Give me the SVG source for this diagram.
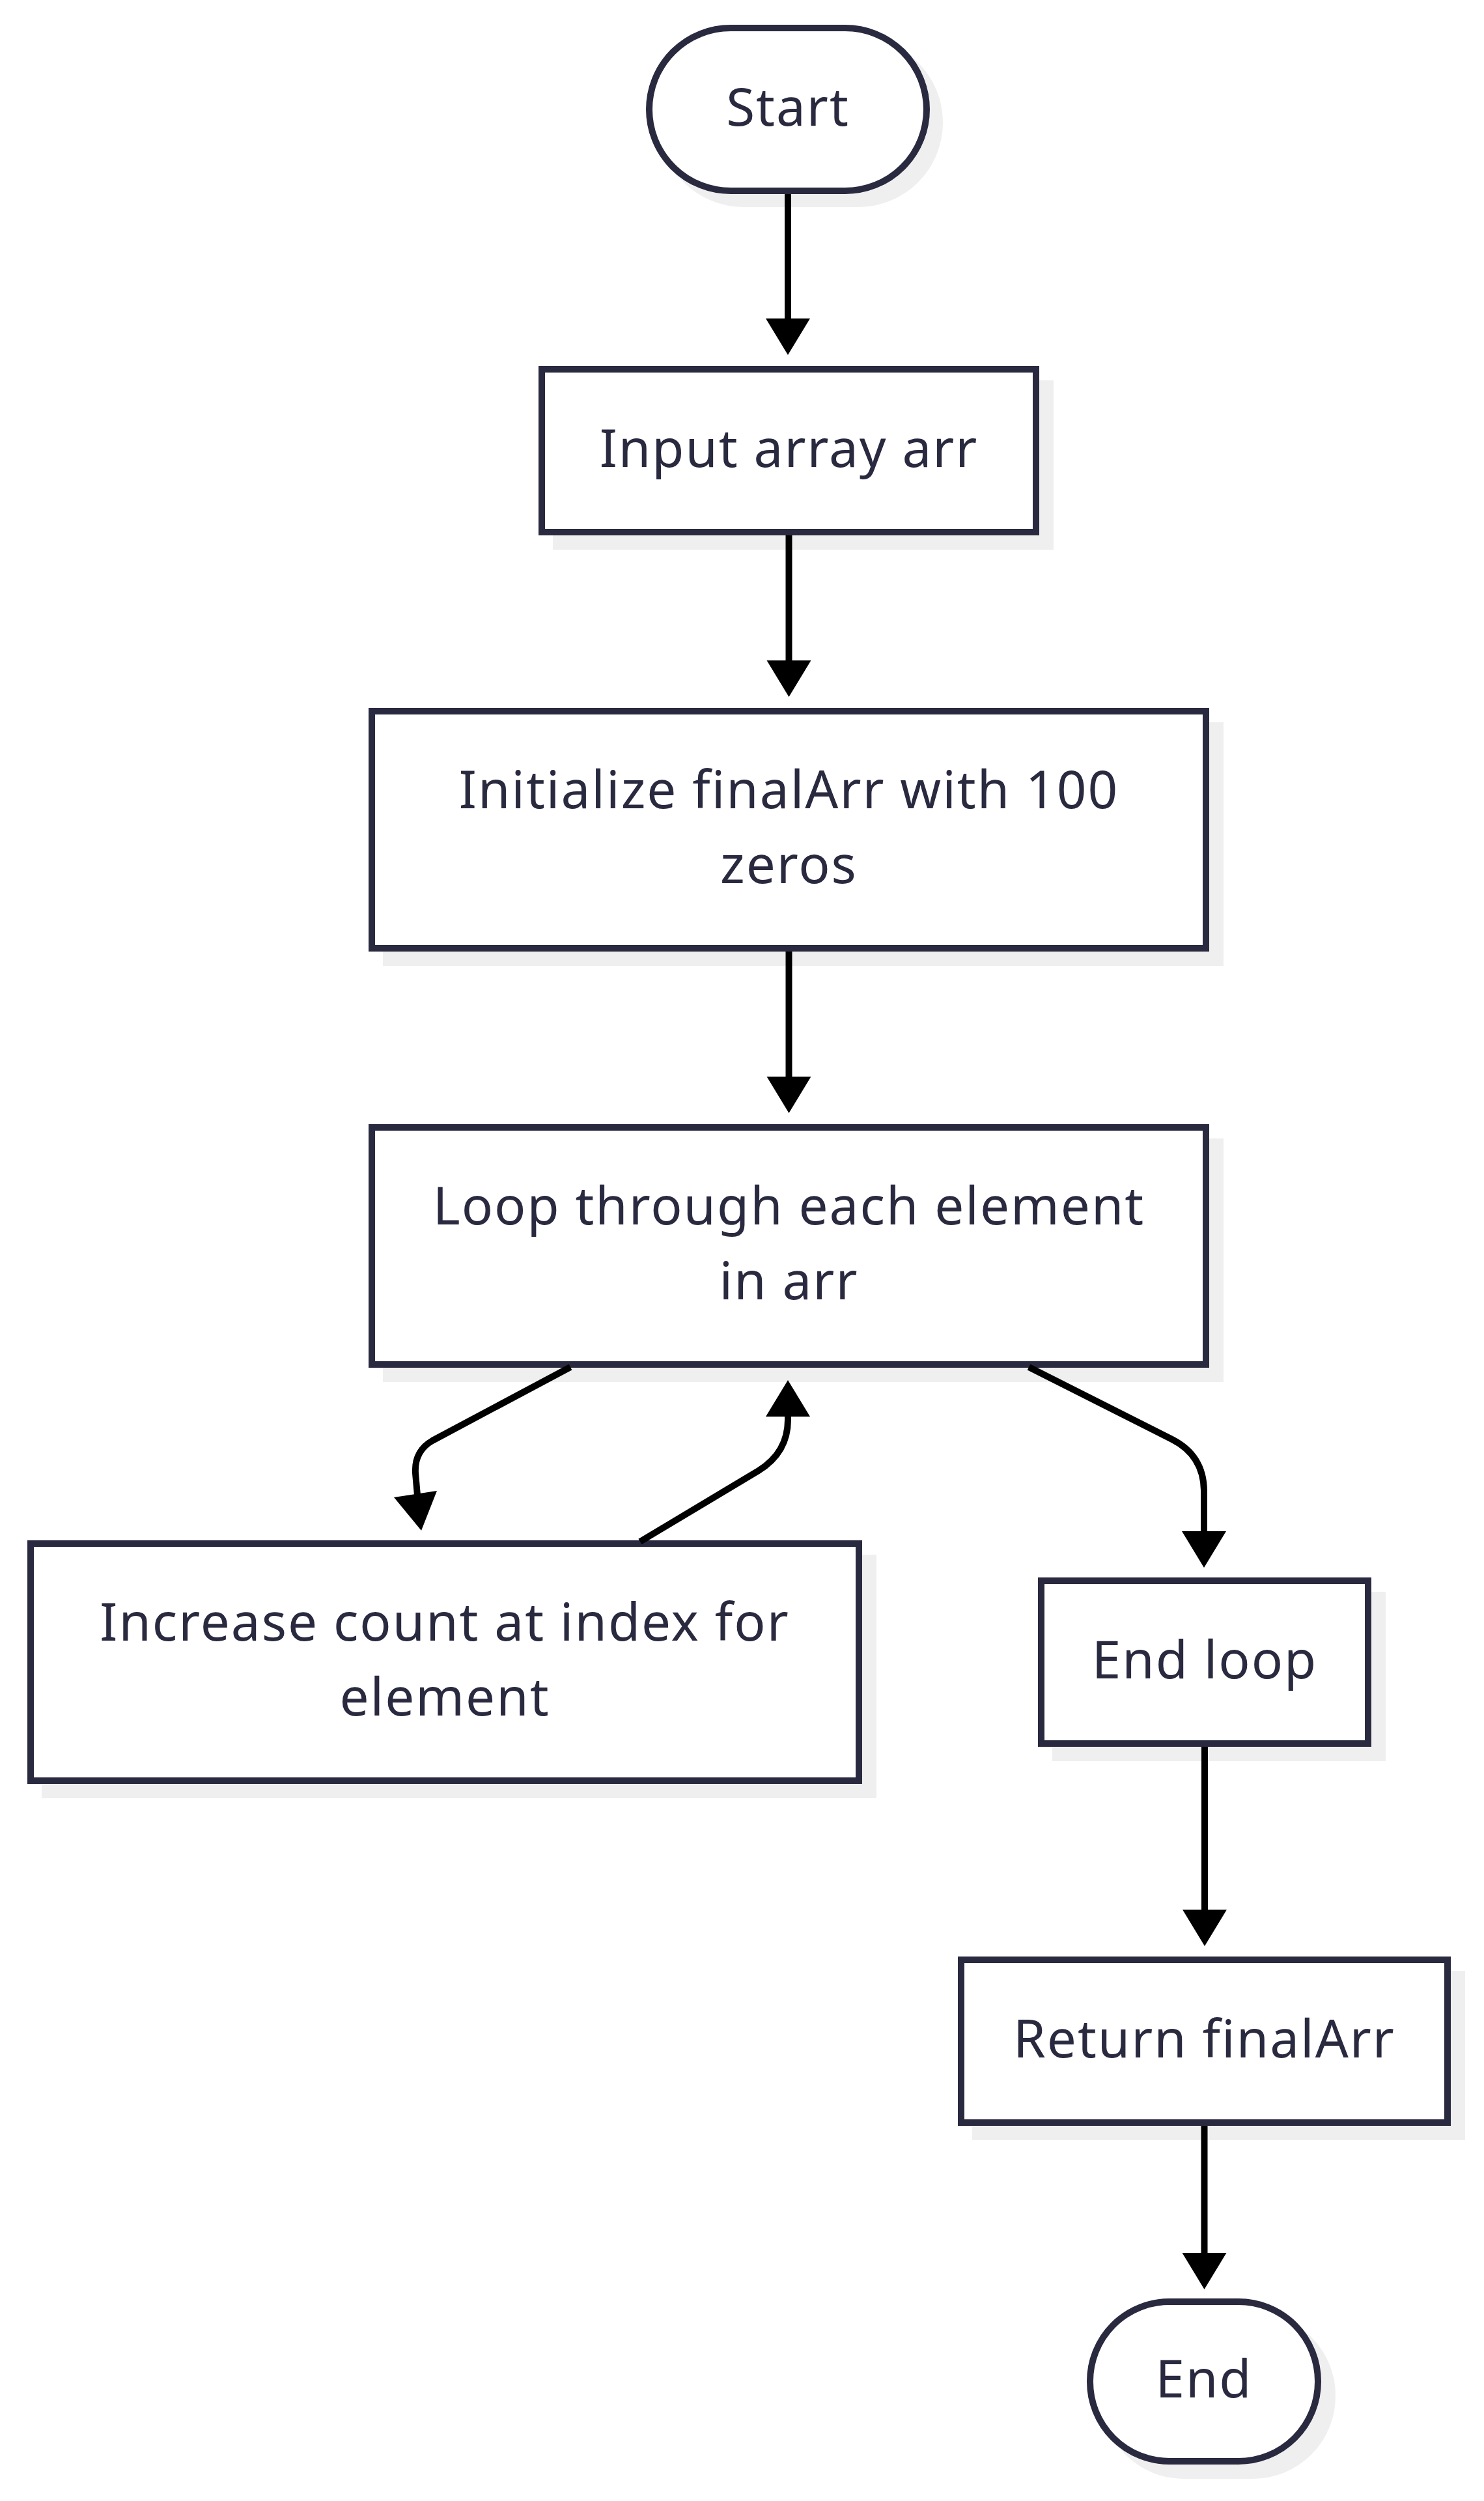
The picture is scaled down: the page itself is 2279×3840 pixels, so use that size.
<svg xmlns="http://www.w3.org/2000/svg" width="2279" height="3840" viewBox="0 0 2279 3840">
<style>
.shadow{fill:#efefef;stroke:none}
.node{fill:#ffffff;stroke:#29293f;stroke-width:10}
.lbl{font-family:"Noto Sans","Open Sans",sans-serif;font-size:80px;fill:#29293f;text-anchor:middle;letter-spacing:2px}
.edge{fill:none;stroke:#000;stroke-width:10}
.head{fill:#000;stroke:none}
</style>
<rect width="2279" height="3840" fill="#ffffff"/>
<g id="start">
<rect class="shadow" x="1012" y="58" width="436" height="260" rx="130"/>
<rect class="node" x="997" y="43" width="426" height="250" rx="125"/>
<text class="lbl" x="1210" y="193">Start</text>
</g>
<g id="input">
<rect class="shadow" x="849" y="584" width="769" height="260"/>
<rect class="node" x="832" y="567" width="759" height="250"/>
<text class="lbl" x="1211.5" y="717">Input array arr</text>
</g>
<g id="init">
<rect class="shadow" x="588" y="1109" width="1291" height="374"/>
<rect class="node" x="571" y="1092" width="1281" height="364"/>
<text class="lbl" x="1211.5" y="1241">Initialize finalArr with 100</text>
<text class="lbl" x="1211.5" y="1356">zeros</text>
</g>
<g id="loop">
<rect class="shadow" x="588" y="1748" width="1291" height="374"/>
<rect class="node" x="571" y="1731" width="1281" height="364"/>
<text class="lbl" x="1211.5" y="1880">Loop through each element</text>
<text class="lbl" x="1211.5" y="1995">in arr</text>
</g>
<g id="increase">
<rect class="shadow" x="64" y="2387" width="1282" height="374"/>
<rect class="node" x="47" y="2370" width="1272" height="364"/>
<text class="lbl" x="683" y="2519">Increase count at index for</text>
<text class="lbl" x="683" y="2634">element</text>
</g>
<g id="endloop">
<rect class="shadow" x="1616" y="2444" width="512" height="260"/>
<rect class="node" x="1599" y="2427" width="502" height="250"/>
<text class="lbl" x="1850" y="2577">End loop</text>
</g>
<g id="return">
<rect class="shadow" x="1493" y="3026" width="757" height="260"/>
<rect class="node" x="1476" y="3009" width="747" height="250"/>
<text class="lbl" x="1849.5" y="3159">Return finalArr</text>
</g>
<g id="end">
<rect class="shadow" x="1691" y="3551" width="360" height="255" rx="127"/>
<rect class="node" x="1674" y="3534" width="350" height="245" rx="122"/>
<text class="lbl" x="1849" y="3681">End</text>
</g>
<g id="connectors">
<path class="edge" d="M1210,298 L1210,492"/>
<polygon class="head" points="1210,545 1176,489 1244,489"/>
<path class="edge" d="M1211.5,822 L1211.5,1017"/>
<polygon class="head" points="1211.5,1070 1177.5,1014 1245.5,1014"/>
<path class="edge" d="M1211.5,1461 L1211.5,1656"/>
<polygon class="head" points="1211.5,1709 1177.5,1653 1245.5,1653"/>
<path class="edge" d="M876,2099 L664,2212 Q636,2228 638,2262 L641,2296"/>
<polygon class="head" points="647,2350 605,2299 671,2289"/>
<path class="edge" d="M983,2367 L1165,2258 Q1210,2230 1210,2180 L1210,2172"/>
<polygon class="head" points="1210,2119 1176,2175 1244,2175"/>
<path class="edge" d="M1580,2099 L1800,2210 Q1849,2235 1849,2290 L1849,2354"/>
<polygon class="head" points="1849,2407 1815,2351 1883,2351"/>
<path class="edge" d="M1850,2682 L1850,2935"/>
<polygon class="head" points="1850,2988 1816,2932 1884,2932"/>
<path class="edge" d="M1849.5,3264 L1849.5,3462"/>
<polygon class="head" points="1849.5,3515 1815.5,3459 1883.5,3459"/>
</g>
</svg>
